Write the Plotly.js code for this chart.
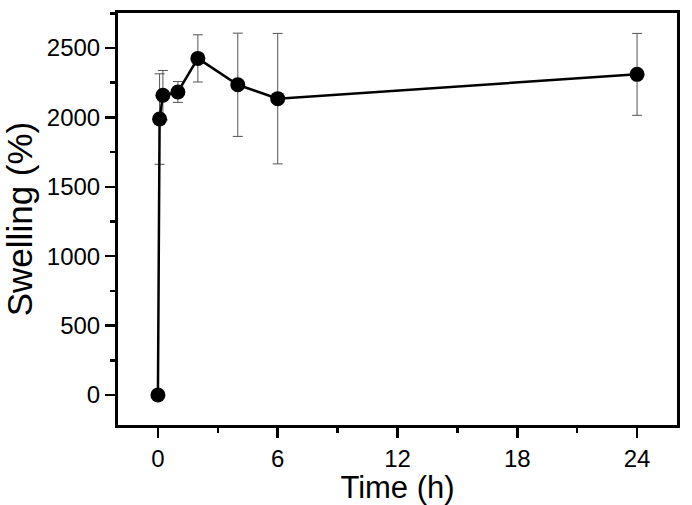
<!DOCTYPE html>
<html>
<head>
<meta charset="utf-8">
<script src="https://cdn.plot.ly/plotly-3.0.1.min.js"></script>
<style>html,body{margin:0;padding:0;background:#fff;}#chart{width:692px;height:505px;}</style>
</head>
<body>
<div id="chart"></div>
<script>
// Data
const timeHours = [0, 0.083, 0.25, 1, 2, 4, 6, 24];
const swelling = [0, 1988, 2160, 2183, 2425, 2235, 2135, 2310];
const swellingErr = [0, 326, 178, 75, 170, 372, 470, 295];
const xTickVals = [0, 6, 12, 18, 24];
const yTickVals = [0, 500, 1000, 1500, 2000, 2500];

const font = "Arial, 'Liberation Sans', sans-serif";

const trace = {
  x: timeHours,
  y: swelling,
  type: 'scatter',
  mode: 'lines+markers',
  line: {color: '#000', width: 2.5},
  marker: {color: '#000', size: 15},
  error_y: {type: 'data', array: swellingErr, visible: true, color: '#555', thickness: 1, width: 5},
  showlegend: false
};

const axisCommon = {
  showgrid: false,
  zeroline: false,
  showline: true,
  linecolor: '#000',
  linewidth: 3,
  mirror: true,
  ticks: 'outside',
  ticklen: 10,
  tickwidth: 2.5,
  tickcolor: '#000',
  tickfont: {family: font, size: 24, color: '#000'}
};

const layout = {
  width: 692,
  height: 505,
  margin: {l: 118, r: 15, t: 13, b: 80},
  paper_bgcolor: '#fff',
  plot_bgcolor: '#fff',
  xaxis: Object.assign({}, axisCommon, {
    range: [-2, 26],
    tickmode: 'array',
    tickvals: xTickVals,
    ticktext: xTickVals.map(String),
    minor: {dtick: 3, tick0: 0, ticks: 'outside', ticklen: 5, tickwidth: 2.5, tickcolor: '#000', showgrid: false},
    title: {text: 'Time (h)', font: {family: font, size: 31, color: '#000'}, standoff: 6}
  }),
  yaxis: Object.assign({}, axisCommon, {
    range: [-216, 2752],
    tickmode: 'array',
    tickvals: yTickVals,
    ticktext: yTickVals.map(String),
    minor: {dtick: 250, tick0: 0, ticks: 'outside', ticklen: 5, tickwidth: 2.5, tickcolor: '#000', showgrid: false},
    title: {text: 'Swelling (%)', font: {family: font, size: 35, color: '#000'}, standoff: 4}
  })
};

Plotly.newPlot('chart', [trace], layout, {displayModeBar: false, staticPlot: true});
</script>
</body>
</html>
